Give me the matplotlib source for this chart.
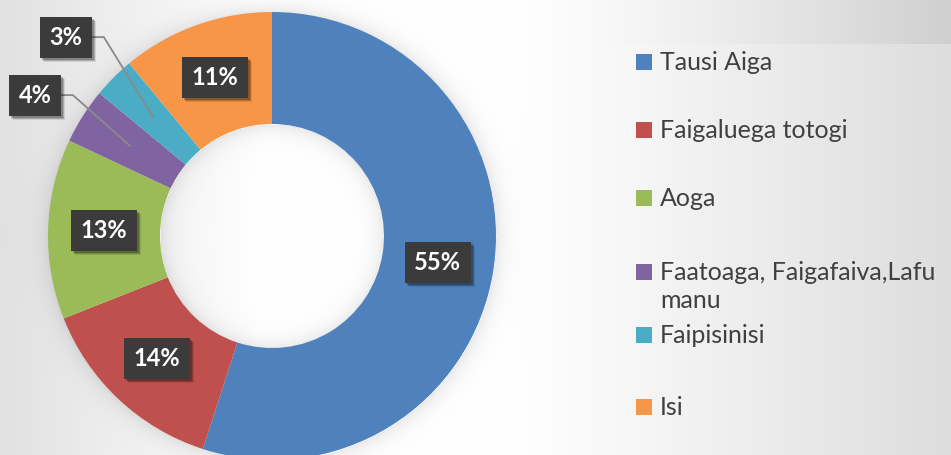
import numpy as np
import matplotlib
matplotlib.use("Agg")
import matplotlib.pyplot as plt
from matplotlib.patches import Rectangle
from matplotlib.lines import Line2D
from matplotlib.transforms import IdentityTransform

# ---- data ----
categories = ["Tausi Aiga", "Faigaluega totogi", "Aoga",
              "Faatoaga, Faigafaiva,Lafu\nmanu", "Faipisinisi", "Isi"]
values = [55, 14, 13, 4, 3, 11]
colors = ["#4F81BD", "#C0504D", "#9BBB59", "#8064A2", "#4BACC6", "#F79646"]
label_texts = [f"{v}%" for v in values]

# manually dragged label positions (data coords) for small slices
manual_label_pos = {3: (-1.058, 0.629), 4: (-0.920, 0.888)}
legend_rows_px = [62, 130, 198, 272, 335, 407]
legend_line_step_px = 28

W, H = 951, 455
fig = plt.figure(figsize=(W / 100, H / 100), dpi=100)

# ---- background ----
yy, xx = np.mgrid[0:H, 0:W].astype(float)
g = np.full((H, W), 255.0)
g -= 30 * np.clip(1 - xx / 260, 0, 1)
g -= 48 * np.clip((xx - 500) / 451, 0, 1) ** 1.3
cx, cy, R, r_in = 272, 236, 224, 112
rr = np.hypot(xx - cx, yy - cy)
g -= (rr > R) * 22 * np.exp(-np.clip(rr - R, 0, None) / 9)
g -= (rr < r_in) * 22 * np.exp(-np.clip(r_in - rr, 0, None) / 9)
leg = (xx >= 601) & (yy >= 44)
g = np.where(leg, 249 - 28 * np.clip((xx - 601) / 350, 0, 1), g)
bg = fig.add_axes([0, 0, 1, 1])
bg.imshow(np.dstack([g] * 3) / 255.0, aspect="auto", extent=(0, W, H, 0))
bg.set_xlim(0, W)
bg.set_ylim(H, 0)
bg.axis("off")

# ---- donut ----
ax = fig.add_axes([(cx - R) / W, (H - cy - R) / H, 2 * R / W, 2 * R / H])
wedges, _ = ax.pie(values, colors=colors, startangle=90, counterclock=False,
                   radius=1, wedgeprops=dict(width=0.5, linewidth=0))
ax.set_xlim(-1, 1)
ax.set_ylim(-1, 1)
ax.axis("off")

texts = []
for i, (w, s) in enumerate(zip(wedges, label_texts)):
    mid = np.deg2rad((w.theta1 + w.theta2) / 2)
    anchor = (0.75 * np.cos(mid), 0.75 * np.sin(mid))
    pos = manual_label_pos.get(i, anchor)
    t = ax.text(pos[0], pos[1], s, ha="center", va="center", color="white",
                fontsize=17, fontweight="bold", family="Lato", zorder=6)
    texts.append((i, t, pos, anchor))

fig.canvas.draw()
renderer = fig.canvas.get_renderer()
for i, t, pos, anchor in texts:
    bb = t.get_window_extent(renderer)
    px, py = ax.transData.transform(pos)
    bw, bh = bb.width + 19, 41
    for off, a in [(4, 0.10), (3, 0.18), (2, 0.22)]:
        sh = Rectangle((px - bw / 2 + off, py - bh / 2 - off), bw, bh,
                       transform=IdentityTransform(), facecolor="black",
                       edgecolor="none", alpha=a, zorder=4, clip_on=False)
        ax.add_patch(sh)
    box = Rectangle((px - bw / 2, py - bh / 2), bw, bh,
                    transform=IdentityTransform(), facecolor="#3b3b3b",
                    edgecolor="none", zorder=5, clip_on=False)
    ax.add_patch(box)
    if i in manual_label_pos:
        ex, ey = ax.transData.transform(anchor)
        x0 = px + bw / 2
        ln = Line2D([x0, x0 + 12, ex], [py, py, ey], transform=IdentityTransform(),
                    color="#8a8a8a", linewidth=1.3, zorder=3, clip_on=False)
        ax.add_line(ln)

# ---- legend ----
for lab, col, ypx in zip(categories, colors, legend_rows_px):
    fig.add_artist(Rectangle((636 / W, 1 - (ypx + 8) / H), 16 / W, 16 / H,
                             transform=fig.transFigure, facecolor=col,
                             edgecolor="none"))
    for j, line in enumerate(lab.split("\n")):
        yb = ypx + 8 + j * legend_line_step_px
        fig.text(660 / W, 1 - yb / H, line, ha="left", va="baseline",
                 fontsize=18, family="Lato", color="#404040")

fig.savefig("out.png", dpi=100)
